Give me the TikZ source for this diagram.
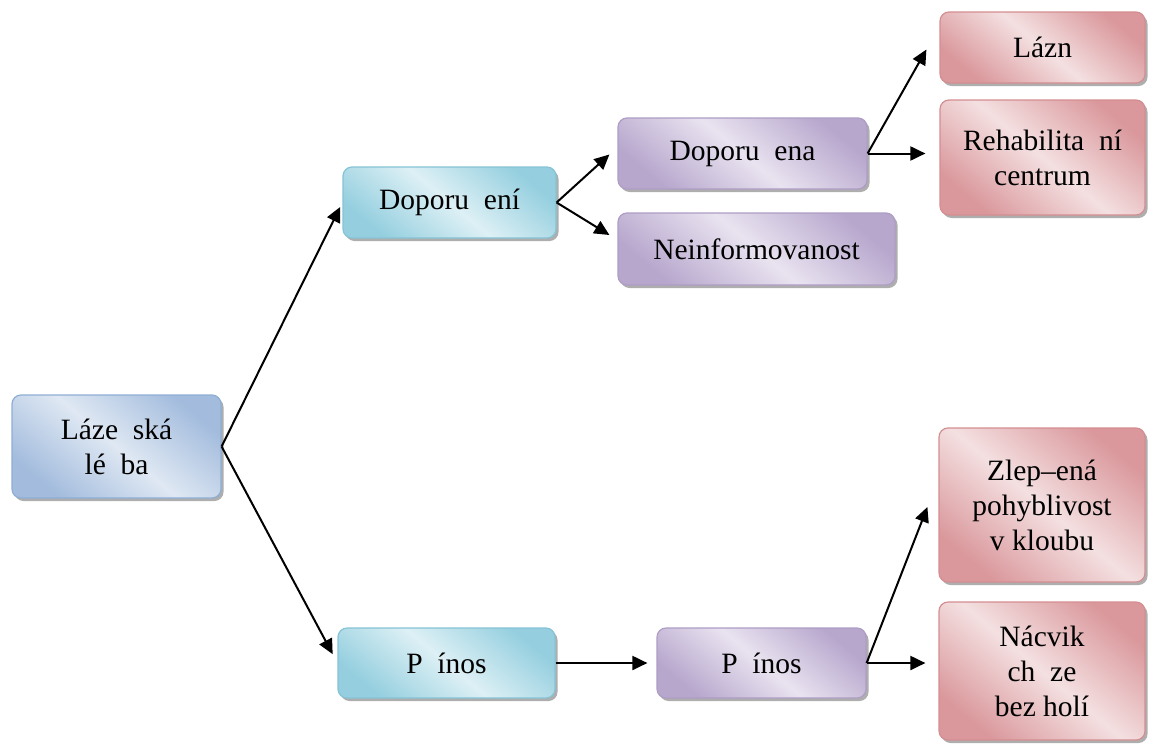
\documentclass[tikz,border=0pt]{standalone}
\usepackage{fontspec}
\setmainfont{Liberation Serif}
\usetikzlibrary{arrows.meta,calc,shadows}

% box colours: light middle band, darker corners, border
\definecolor{steelLight}{HTML}{DFE8F3}
\definecolor{steelDark}{HTML}{A3BCDD}
\definecolor{steelLine}{HTML}{8FAED5}
\definecolor{aquaLight}{HTML}{DDF0F5}
\definecolor{aquaDark}{HTML}{95CFDF}
\definecolor{aquaLine}{HTML}{86C3D5}
\definecolor{lilacLight}{HTML}{E9E3F0}
\definecolor{lilacDark}{HTML}{B7A7CD}
\definecolor{lilacLine}{HTML}{AE9DC4}
\definecolor{roseLight}{HTML}{F4E0E1}
\definecolor{roseDark}{HTML}{DA989C}
\definecolor{roseLine}{HTML}{D48E91}

\newcommand\gp{\hspace{0.5em}}

\begin{document}
\begin{tikzpicture}[x=1pt,y=-1pt,
  box/.style={rounded corners=9pt, line width=1.2pt, align=center,
    inner sep=0pt, font=\fontsize{29.5}{35}\selectfont,
    drop shadow={shadow xshift=2.5pt, shadow yshift=-3pt,
                 fill=black!45, opacity=0.7}},
  % diagonal gradient: darker corners, light band across the middle
  tint/.style n args={2}{top color=#2, bottom color=#2,
    middle color=#1, shading angle=-40},
  steelbox/.style={box, draw=steelLine, tint={steelLight}{steelDark}},
  aquabox/.style={box, draw=aquaLine, tint={aquaLight}{aquaDark}},
  lilacbox/.style={box, draw=lilacLine, tint={lilacLight}{lilacDark}},
  rosebox/.style={box, draw=roseLine, tint={roseLight}{roseDark}},
  link/.style={line width=2pt, -{Triangle[length=15pt,width=14pt]}}
]
\useasboundingbox (0,0) rectangle (1155,744);

% first level
\node[steelbox, minimum width=209pt, minimum height=103pt] (root)
  at (116.5,446.5) {Láze\gp ská\\lé\gp ba};

% second level
\node[aquabox, minimum width=213pt, minimum height=71pt] (dop1)
  at (449.5,202.5) {Doporu\gp ení};
\node[aquabox, minimum width=217pt, minimum height=70pt] (prin1)
  at (446.5,663) {P\gp ínos};

% third level
\node[lilacbox, minimum width=249pt, minimum height=71pt] (dop2)
  at (742.5,153.5) {Doporu\gp ena};
\node[lilacbox, minimum width=277pt, minimum height=72pt] (nein)
  at (756.5,249) {Neinformovanost};
\node[lilacbox, minimum width=209pt, minimum height=70pt] (prin2)
  at (761.5,663) {P\gp ínos};

% fourth level
\node[rosebox, minimum width=205pt, minimum height=71pt] (lazn)
  at (1042.5,47.5) {Lázn};
\node[rosebox, minimum width=205pt, minimum height=115pt] (rehab)
  at (1042.5,157.5) {Rehabilita\gp ní\\centrum};
\node[rosebox, minimum width=206pt, minimum height=154pt] (zlep)
  at (1042,505) {Zlep–ená\\pohyblivost\\v kloubu};
\node[rosebox, minimum width=206pt, minimum height=138pt] (nacvik)
  at (1042,671) {Nácvik\\ch\gp ze\\bez holí};

% connectors
\draw[link, shorten >=5pt] (root.east) -- (dop1.west);
\draw[link, shorten >=10pt] (root.east) -- (prin1.west);

\draw[link] (dop1.east) -- ($(dop2.west)+(-8,1)$);
\draw[link] (dop1.east) -- ($(nein.west)+(-8,-14)$);

\draw[link] (dop2.east) -- ($(lazn.west)+(-13,2)$);
\draw[link] (dop2.east) -- ($(dop2.east -| rehab.west)+(-14,0)$);

\draw[link, shorten >=9pt] (prin1.east) -- (prin2.west);

\draw[link] (prin2.east) -- ($(zlep.west)+(-11,2)$);
\draw[link] (prin2.east) -- ($(prin2.east -| nacvik.west)+(-13,0)$);
\end{tikzpicture}
\end{document}
